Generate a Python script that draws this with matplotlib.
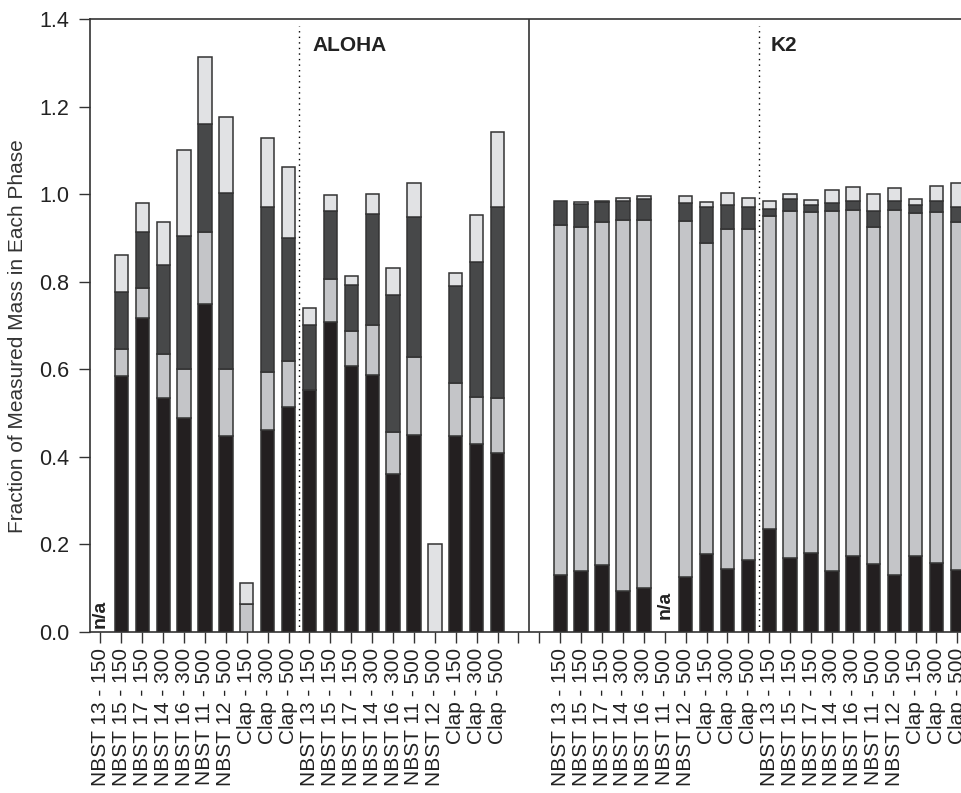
import numpy as np
import matplotlib
matplotlib.use("Agg")
from matplotlib import pyplot as plt

plt.rcParams['font.family'] = ['Liberation Sans', 'DejaVu Sans']

sites = ['NBST 13 - 150', 'NBST 15 - 150', 'NBST 17 - 150', 'NBST 14 - 300',
         'NBST 16 - 300', 'NBST 11 - 500', 'NBST 12 - 500',
         'Clap - 150', 'Clap - 300', 'Clap - 500']
# two sets per station, two blank slots between the stations
labels = sites * 2 + ['', ''] + sites * 2

# ALOHA (20 bars), K2 (20 bars)
aloha_p1 = [0.0, 0.584, 0.717, 0.535, 0.490, 0.749, 0.448, 0.0, 0.461, 0.515,
            0.552, 0.709, 0.609, 0.588, 0.360, 0.451, 0.0, 0.448, 0.430, 0.409]
aloha_p2 = [0.0, 0.063, 0.070, 0.100, 0.111, 0.165, 0.153, 0.063, 0.134, 0.105,
            0.0, 0.097, 0.078, 0.114, 0.098, 0.177, 0.0, 0.121, 0.107, 0.126]
aloha_p3 = [0.0, 0.129, 0.126, 0.203, 0.303, 0.246, 0.402, 0.0, 0.376, 0.280,
            0.149, 0.156, 0.106, 0.253, 0.313, 0.320, 0.0, 0.222, 0.309, 0.436]
aloha_p4 = [0.0, 0.085, 0.068, 0.098, 0.197, 0.153, 0.173, 0.049, 0.158, 0.162,
            0.039, 0.036, 0.021, 0.047, 0.060, 0.079, 0.202, 0.029, 0.106, 0.171]

k2_p1 = [0.130, 0.139, 0.153, 0.093, 0.100, 0.0, 0.125, 0.178, 0.144, 0.164,
         0.235, 0.169, 0.180, 0.139, 0.173, 0.156, 0.130, 0.173, 0.157, 0.141]
k2_p2 = [0.801, 0.787, 0.783, 0.848, 0.842, 0.0, 0.814, 0.710, 0.776, 0.756,
         0.716, 0.793, 0.780, 0.823, 0.791, 0.770, 0.835, 0.785, 0.802, 0.796]
k2_p3 = [0.055, 0.053, 0.046, 0.043, 0.047, 0.0, 0.041, 0.083, 0.055, 0.052,
         0.016, 0.028, 0.015, 0.019, 0.021, 0.035, 0.021, 0.017, 0.025, 0.034]
k2_p4 = [0.0, 0.003, 0.004, 0.008, 0.008, 0.0, 0.017, 0.011, 0.028, 0.019,
         0.017, 0.012, 0.012, 0.028, 0.033, 0.040, 0.028, 0.015, 0.036, 0.056]

colors = ['#231f20', '#c4c5c8', '#474849', '#e1e2e4']

x_aloha = np.arange(20)
x_k2 = np.arange(22, 42)

fig = plt.figure(figsize=(9.61, 7.93), dpi=100)
ax = fig.add_axes([0.0937, 0.203, 0.9134, 0.7726])

w = 0.64
for xs, segs in [(x_aloha, [aloha_p1, aloha_p2, aloha_p3, aloha_p4]),
                 (x_k2, [k2_p1, k2_p2, k2_p3, k2_p4])]:
    bottom = np.zeros(len(xs))
    for vals, c in zip(segs, colors):
        vals = np.array(vals)
        keep = vals > 0
        ax.bar(xs[keep], vals[keep], w, bottom=bottom[keep], color=c,
               edgecolor='#333333', linewidth=1.1, zorder=3)
        bottom += vals

ax.axvline(20.5, color='#333333', lw=1.2)
ax.plot([9.5, 9.5], [0, 1.385], ls=(0, (1, 3)), color='black', lw=1.0)
ax.plot([31.5, 31.5], [0, 1.385], ls=(0, (1, 3)), color='black', lw=1.0)

ax.text(10.15, 1.34, 'ALOHA', fontsize=15, fontweight='bold', va='center',
        color='#222222')
ax.text(32.05, 1.34, 'K2', fontsize=15, fontweight='bold', va='center',
        color='#222222')
ax.text(0, 0.01, 'n/a', rotation=90, fontsize=14, fontweight='bold',
        ha='center', va='bottom', color='#222222')
ax.text(27, 0.03, 'n/a', rotation=90, fontsize=14, fontweight='bold',
        ha='center', va='bottom', color='#222222')

ax.set_xlim(-0.5, 41.5)
ax.set_ylim(0, 1.4)
ax.set_xticks(np.arange(42))
ax.set_xticklabels(labels, rotation=90, fontsize=15, color='#222222')
ax.set_yticks(np.arange(0, 1.41, 0.2))
ax.set_yticklabels(['%.1f' % v for v in np.arange(0, 1.41, 0.2)], fontsize=15.5,
                   color='#222222')
ax.tick_params(axis='both', direction='out', length=8, width=1.0, color='#333333')
ax.tick_params(axis='y', pad=7)
ax.set_ylabel('Fraction of Measured Mass in Each Phase', fontsize=15,
              color='#333333')
ax.yaxis.set_label_coords(-0.072, 0.483)
for s in ['left', 'top', 'bottom', 'right']:
    ax.spines[s].set_color('#333333')
    ax.spines[s].set_linewidth(1.2)

fig.savefig('out.png', dpi=100)
